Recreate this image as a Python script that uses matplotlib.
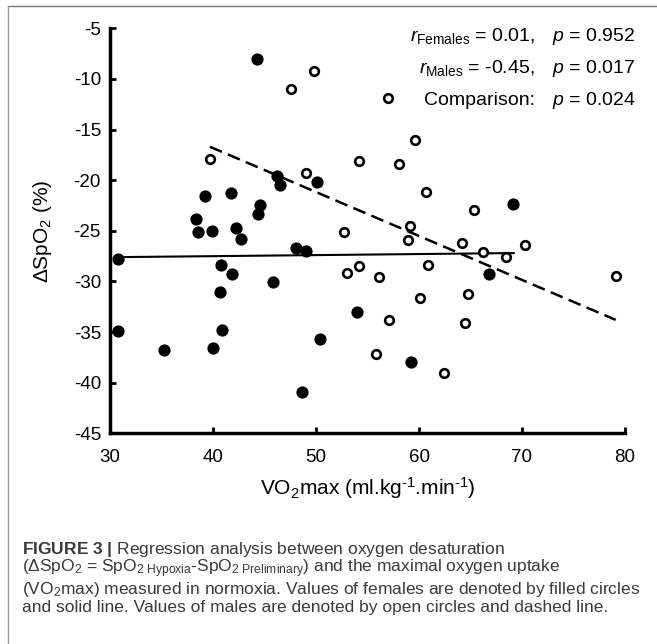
import matplotlib
matplotlib.use('Agg')
import matplotlib.pyplot as plt
import numpy as np

plt.rcParams['font.family'] = ['Liberation Sans', 'DejaVu Sans']
plt.rcParams['mathtext.fontset'] = 'custom'
plt.rcParams['mathtext.rm'] = 'Liberation Sans'
plt.rcParams['mathtext.it'] = 'Liberation Sans:italic'
plt.rcParams['mathtext.bf'] = 'Liberation Sans:bold'
plt.rcParams['axes.unicode_minus'] = False

# females (filled circles)
fem_vo2 = [44.3, 39.2, 38.35, 38.5, 39.9, 41.7, 44.6, 44.4, 42.2, 42.75,
           46.25, 46.5, 50.1, 48.1, 49.0, 30.75, 40.8, 41.85, 45.8, 40.65,
           30.8, 40.9, 35.2, 40.0, 50.35, 48.6, 54.0, 59.2, 66.8, 69.1]
fem_dspo2 = [-8.0, -21.6, -23.85, -25.1, -25.0, -21.3, -22.5, -23.3, -24.7, -25.8,
             -19.6, -20.5, -20.2, -26.7, -27.0, -27.8, -28.4, -29.3, -30.1, -31.0,
             -34.9, -34.75, -36.75, -36.6, -35.7, -40.9, -33.0, -38.0, -29.3, -22.4]

# males (open circles)
male_vo2 = [47.6, 49.8, 39.7, 49.0, 52.7, 57.0, 59.6, 54.2, 58.1, 60.7,
            65.3, 59.15, 58.9, 64.2, 66.25, 68.45, 70.3, 79.1, 53.0, 54.2,
            56.15, 60.85, 64.8, 60.1, 57.1, 64.5, 55.85, 62.4]
male_dspo2 = [-11.0, -9.2, -17.9, -19.3, -25.1, -11.9, -16.0, -18.1, -18.4, -21.2,
              -22.9, -24.5, -25.9, -26.2, -27.1, -27.55, -26.4, -29.45, -29.2, -28.5,
              -29.6, -28.4, -31.2, -31.65, -33.8, -34.1, -37.2, -39.05]

# regression lines (end points)
fem_fit_x = [30.8, 69.2]
fem_fit_y = [-27.6, -27.2]
male_fit_x = [39.7, 79.1]
male_fit_y = [-16.7, -33.8]

W, H = 657, 644
fig = plt.figure(figsize=(W / 100, H / 100), dpi=100)
ax = fig.add_axes([110 / W, 1 - 433.3 / H, 515 / W, 405 / H])

ax.plot(fem_fit_x, fem_fit_y, color='black', lw=1.5, zorder=2)
ax.plot(male_fit_x, male_fit_y, color='black', lw=1.8, dashes=(5.2, 2.6), zorder=2)
ax.plot(fem_vo2, fem_dspo2, 'o', color='black', ms=8.8, mew=0, zorder=3, clip_on=False)
ax.plot(male_vo2, male_dspo2, 'o', mfc='white', mec='black', ms=6.2, mew=1.9,
        zorder=4, clip_on=False)

ax.set_xlim(30, 80)
ax.set_ylim(-45, -5)
ax.set_xticks([30, 40, 50, 60, 70, 80])
ax.set_yticks(np.arange(-45, -4, 5))
ax.spines['top'].set_visible(False)
ax.spines['right'].set_visible(False)
for s in ['left', 'bottom']:
    ax.spines[s].set_linewidth(2.5)
ax.tick_params(direction='in', length=4.5, width=2, labelsize=13.5)
ax.tick_params(axis='x', pad=11.5)
ax.tick_params(axis='y', pad=6.5)

ax.set_xlabel(r'VO$_2$max (ml.kg$^{\text{-1}}$.min$^{\text{-1}}$)', fontsize=15, labelpad=6)
ax.set_ylabel(r'$\Delta$SpO$_2$ (%)', fontsize=15)
ax.yaxis.set_label_coords(-0.109, 0.5)

# statistics text
fs = 14
left_parts = [r'$r_{\mathrm{Females}}$ = 0.01,', r'$r_{\mathrm{Males}}$ = -0.45,', 'Comparison:']
right_parts = [r'$p$ = 0.952', r'$p$ = 0.017', r'$p$ = 0.024']
baselines = [40.7, 72.7, 105]
for lp, rp, yb in zip(left_parts, right_parts, baselines):
    fig.text(535 / W, 1 - yb / H, lp, ha='right', va='baseline', fontsize=fs)
    fig.text(552 / W, 1 - yb / H, rp, ha='left', va='baseline', fontsize=fs)

# caption
cap_col = '#3a3a3a'
cap_fs = 12.5
cap_lines = [
    r'$\mathbf{FIGURE\ 3\ |}$ Regression analysis between oxygen desaturation',
    r'($\Delta$SpO$_2$ = SpO$_{2\ \mathrm{Hypoxia}}$-SpO$_{2\ \mathrm{Preliminary}}$) and the maximal oxygen uptake',
    r'(VO$_2$max) measured in normoxia. Values of females are denoted by filled circles',
    'and solid line. Values of males are denoted by open circles and dashed line.',
]
cap_base = [554.0, 572.6, 593.6, 612.4]
for line, yb in zip(cap_lines, cap_base):
    fig.text(22.5 / W, 1 - yb / H, line, ha='left', va='baseline', fontsize=cap_fs, color=cap_col)

# frame around figure + caption
fig.add_artist(plt.Line2D([7.7 / W, 1], [1 - 5.7 / H, 1 - 5.7 / H], color='#777777', lw=1))
fig.add_artist(plt.Line2D([7.7 / W, 7.7 / W], [0, 1 - 5.7 / H], color='#999999', lw=1))

fig.savefig('out.png', dpi=100)
